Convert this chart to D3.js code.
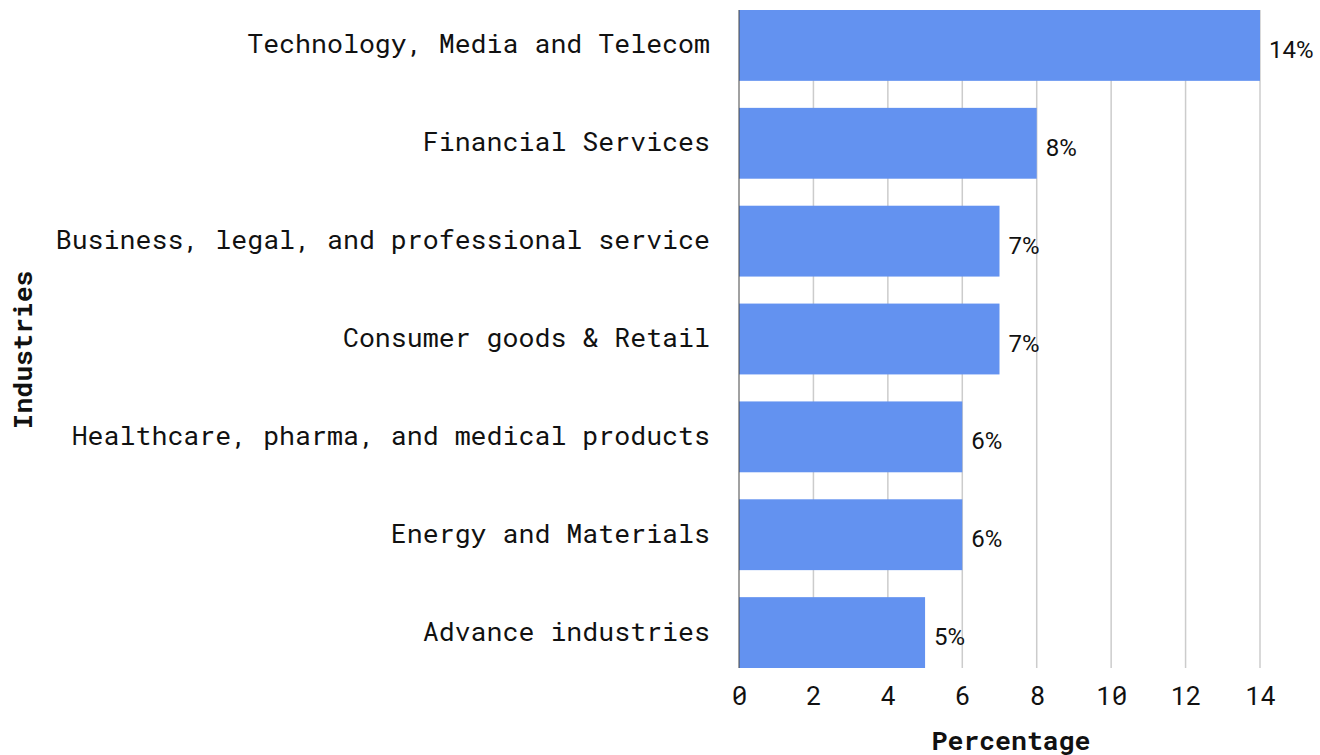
<!DOCTYPE html>
<html>
<head>
<meta charset="utf-8">
<script src="https://cdn.jsdelivr.net/npm/d3@7/dist/d3.min.js"></script>
<style>
  html, body { margin: 0; padding: 0; background: #fff; }
  svg { display: block; }
</style>
</head>
<body>
<svg id="chart" width="1320" height="755"></svg>
<script>
// Share of companies by industry (%)
const industries = [
  "Technology, Media and Telecom",
  "Financial Services",
  "Business, legal, and professional service",
  "Consumer goods & Retail",
  "Healthcare, pharma, and medical products",
  "Energy and Materials",
  "Advance industries"
];
const percentages = [14, 8, 7, 7, 6, 6, 5];
const xTicks = [0, 2, 4, 6, 8, 10, 12, 14];

const monoFont = "'Roboto Mono', 'DejaVu Sans Mono', 'Liberation Mono', monospace";
const sansFont = "Roboto, 'Noto Sans', sans-serif";

const svg = d3.select("#chart");
const plotLeft = 739, plotRight = 1260, plotTop = 10, plotBottom = 668;

const x = d3.scaleLinear().domain([0, 14]).range([plotLeft, plotRight]);
const y = d3.scaleBand().domain(industries).range([plotTop, plotBottom])
  .paddingInner(0.276).paddingOuter(0);

// vertical gridlines
svg.append("g")
  .selectAll("line")
  .data(xTicks.filter(t => t !== 0))
  .join("line")
  .attr("x1", d => x(d)).attr("x2", d => x(d))
  .attr("y1", plotTop).attr("y2", plotBottom)
  .attr("stroke", "#cccccc")
  .attr("stroke-width", 1.5);

// bars
const data = industries.map((name, i) => ({ name, value: percentages[i] }));
svg.append("g")
  .selectAll("rect")
  .data(data)
  .join("rect")
  .attr("x", x(0))
  .attr("y", d => y(d.name))
  .attr("width", d => x(d.value) - x(0))
  .attr("height", y.bandwidth())
  .attr("fill", "#6392f0");

// baseline
svg.append("line")
  .attr("x1", x(0)).attr("x2", x(0))
  .attr("y1", plotTop).attr("y2", plotBottom)
  .attr("stroke", "#444")
  .attr("stroke-width", 1);

// value labels
svg.append("g")
  .selectAll("text")
  .data(data)
  .join("text")
  .attr("x", d => x(d.value) + 9)
  .attr("y", d => y(d.name) + y.bandwidth() / 2 + 4.5)
  .attr("dominant-baseline", "central")
  .attr("font-family", sansFont)
  .attr("font-size", 24)
  .attr("fill", "#111")
  .text(d => d.value + "%");

// category axis
const yAxis = d3.axisLeft(y).tickSize(0).tickPadding(29);
const gy = svg.append("g").attr("transform", `translate(${plotLeft},0)`).call(yAxis);
gy.select(".domain").remove();
gy.selectAll("text")
  .attr("font-family", monoFont)
  .attr("font-size", 26.6)
  .attr("fill", "#111")
  .attr("dy", "0.3em");

// value axis
const xAxis = d3.axisBottom(x).tickValues(xTicks).tickSize(0).tickPadding(19);
const gx = svg.append("g").attr("transform", `translate(0,${plotBottom})`).call(xAxis);
gx.select(".domain").remove();
gx.selectAll("text")
  .attr("font-family", monoFont)
  .attr("font-size", 26)
  .attr("fill", "#111");

// axis titles
svg.append("text")
  .attr("x", 1011).attr("y", 739)
  .attr("text-anchor", "middle")
  .attr("dominant-baseline", "central")
  .attr("font-family", monoFont)
  .attr("font-size", 26.5)
  .attr("font-weight", "bold")
  .attr("fill", "#111")
  .text("Percentage");

svg.append("text")
  .attr("transform", "translate(21,350) rotate(-90)")
  .attr("text-anchor", "middle")
  .attr("dominant-baseline", "central")
  .attr("font-family", monoFont)
  .attr("font-size", 26.5)
  .attr("font-weight", "bold")
  .attr("fill", "#111")
  .text("Industries");
</script>
</body>
</html>
